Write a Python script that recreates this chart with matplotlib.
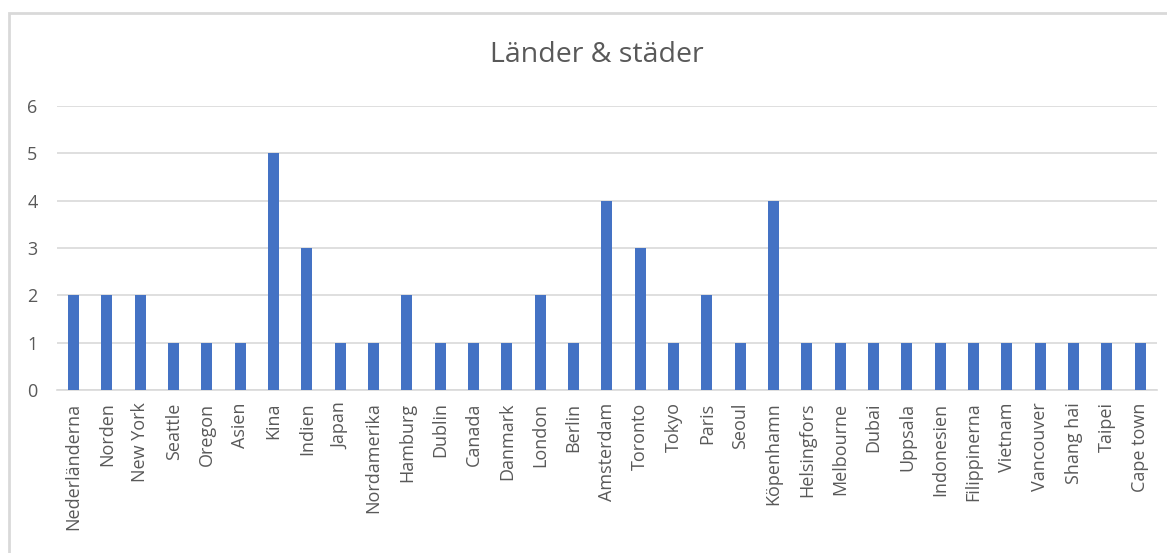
import matplotlib.pyplot as plt
from matplotlib.patches import Rectangle

plt.rcParams['font.family'] = ['Open Sans', 'DejaVu Sans']

platser = ["Nederländerna", "Norden", "New York", "Seattle", "Oregon", "Asien", "Kina",
           "Indien", "Japan", "Nordamerika", "Hamburg", "Dublin", "Canada", "Danmark",
           "London", "Berlin", "Amsterdam", "Toronto", "Tokyo", "Paris", "Seoul",
           "Köpenhamn", "Helsingfors", "Melbourne", "Dubai", "Uppsala", "Indonesien",
           "Filippinerna", "Vietnam", "Vancouver", "Shang hai", "Taipei", "Cape town"]
antal = [2, 2, 2, 1, 1, 1, 5, 3, 1, 1, 2, 1, 1, 1, 2, 1, 4, 3, 1, 2, 1, 4,
         1, 1, 1, 1, 1, 1, 1, 1, 1, 1, 1]
y_ticks = [0, 1, 2, 3, 4, 5, 6]

text_color = "#595959"
bar_color = "#4472C4"

fig = plt.figure(figsize=(11.67, 5.53), dpi=100)
ax = fig.add_axes([0.0488, 0.2948, 0.9426, 0.5135])

x = range(len(platser))
ax.bar(x, antal, width=0.33, color=bar_color, zorder=3)

ax.set_xlim(-0.5, len(platser) - 0.5)
ax.set_ylim(0, 6)
ax.set_yticks(y_ticks)
ax.yaxis.grid(True, color="#d9d9d9", linewidth=1.2, zorder=0)
ax.set_xticks(list(x))
ax.set_xticklabels(platser, rotation=90, fontsize=13, color=text_color)
ax.tick_params(axis='y', labelsize=13, labelcolor=text_color, length=0, pad=14)
ax.tick_params(axis='x', length=0, pad=9)

for side in ["top", "right", "left"]:
    ax.spines[side].set_visible(False)
ax.spines["bottom"].set_color("#d9d9d9")
ax.spines["bottom"].set_linewidth(1.2)

fig.text(0.511, 0.90, "Länder & städer", ha="center", va="center",
         fontsize=20.5, color=text_color)

# ram runt diagrammet
fig.patches.append(Rectangle((9 / 1167, -0.05), 1.1, 1 - 13 / 553 + 0.05,
                             transform=fig.transFigure, fill=False,
                             edgecolor="#d9d9d9", linewidth=2))

fig.savefig("out.png", dpi=100)
